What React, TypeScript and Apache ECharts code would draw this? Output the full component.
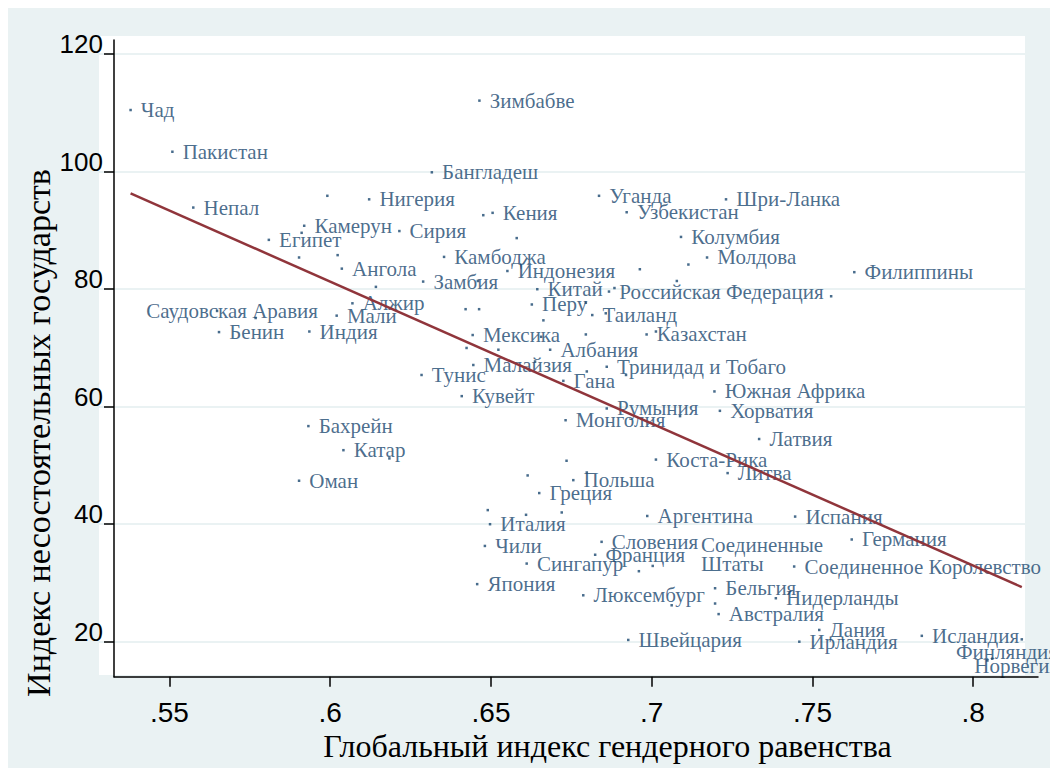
import React, { useEffect, useRef } from "react";
import * as echarts from "echarts";

// Labelled countries: name, Global Gender Gap Index, Failed States Index
const countries = [
  "Чад", "Пакистан", "Зимбабве", "Бангладеш", "Непал", "Нигерия", "Камерун", "Сирия",
  "Египет", "Ангола", "Кения", "Уганда", "Узбекистан", "Шри-Ланка", "Колумбия", "Молдова",
  "Камбоджа", "Индонезия", "Замбия", "Китай", "Российская Федерация", "Филиппины", "Перу",
  "Таиланд", "Саудовская Аравия", "Алжир", "Мали", "Бенин", "Индия", "Мексика", "Казахстан",
  "Албания", "Малайзия", "Тринидад и Тобаго", "Тунис", "Гана", "Кувейт", "Южная Африка",
  "Румыния", "Хорватия", "Монголия", "Бахрейн", "Катар", "Латвия", "Оман", "Коста-Рика",
  "Литва", "Польша", "Греция", "Аргентина", "Испания", "Италия", "Словения",
  "Соединенные Штаты", "Германия", "Чили", "Франция", "Сингапур", "Соединенное Королевство",
  "Япония", "Люксембург", "Бельгия", "Нидерланды", "Австралия", "Дания", "Швейцария",
  "Ирландия", "Исландия", "Финляндия", "Норвегия"
];
const genderIndex = [
  0.5379, 0.5509, 0.6464, 0.6316, 0.5574, 0.6121, 0.5919, 0.6215,
  0.5809, 0.6036, 0.6505, 0.6836, 0.6922, 0.7231, 0.7091, 0.7172,
  0.6354, 0.6551, 0.6289, 0.6644, 0.6867, 0.7630, 0.6627,
  0.6815, 0.5648, 0.6069, 0.6020, 0.5654, 0.5935, 0.6443, 0.6984,
  0.6684, 0.6445, 0.6860, 0.6284, 0.6725, 0.6409, 0.7195,
  0.6860, 0.7212, 0.6732, 0.5932, 0.6041, 0.7334, 0.5903, 0.7013,
  0.7236, 0.6756, 0.6650, 0.6986, 0.7446, 0.6497, 0.6844,
  0.7003, 0.7622, 0.6481, 0.6824, 0.6611, 0.7443,
  0.6457, 0.6787, 0.7197, 0.7386, 0.7208, 0.7521, 0.6927,
  0.7459, 0.7840, 0.8044, 0.8059
];
const failedStatesIndex = [
  110.5, 103.4, 112.1, 99.9, 93.9, 95.3, 90.8, 89.9,
  88.4, 83.5, 93.0, 95.9, 93.1, 95.3, 88.9, 85.4,
  85.5, 83.1, 81.3, 80.0, 79.6, 82.9, 77.4,
  75.6, 76.3, 77.6, 75.5, 72.7, 72.8, 72.2, 72.3,
  69.7, 67.1, 66.8, 65.4, 64.4, 61.8, 62.6,
  59.7, 59.3, 57.7, 56.7, 52.6, 54.5, 47.4, 51.0,
  48.7, 47.5, 45.3, 41.4, 41.3, 40.0, 37.0,
  32.9, 37.4, 36.3, 34.8, 33.3, 32.8,
  29.8, 27.9, 29.1, 27.4, 24.7, 22.0, 20.3,
  20.0, 21.0, 16.8, 17.1
];

// Points drawn without a label
const otherGender = [
  0.5991, 0.5911, 0.5903, 0.6023, 0.6476, 0.6580, 0.7114, 0.6963, 0.7078, 0.6459,
  0.6884, 0.6795, 0.6421, 0.6463, 0.6857, 0.6663, 0.6142, 0.7558, 0.5768, 0.6656,
  0.6795, 0.7013, 0.6424, 0.6523, 0.6637, 0.6798, 0.6920, 0.7088, 0.6184, 0.6735,
  0.6614, 0.6798, 0.6490, 0.6609, 0.6720, 0.6960, 0.7062, 0.7197, 0.8151
];
const otherFailed = [
  95.9, 89.6, 85.4, 85.8, 92.6, 88.7, 84.2, 83.4, 81.4, 81.4,
  80.2, 77.7, 76.6, 76.6, 75.9, 74.7, 80.4, 78.8, 75.1, 71.9,
  72.3, 72.8, 70.0, 69.7, 67.7, 66.0, 65.4, 58.4, 51.2, 50.8,
  48.3, 48.8, 42.4, 41.6, 42.0, 32.0, 26.2, 26.5, 20.4
];

// Linear fit end points
const fitX = [0.5379, 0.8151];
const fitY = [96.3, 29.3];

const xTicks = [0.55, 0.6, 0.65, 0.7, 0.75, 0.8];
const yTicks = [20, 40, 60, 80, 100, 120];

const NAVY = "#1A476F";
const FIT = "#90353B";
const BG = "#EAF2F3";
const SERIF = "'Liberation Serif', 'Times New Roman', serif";
const SANS = "'Liberation Sans', Arial, sans-serif";

const labelShift: Record<string, [number, number]> = {
  "Соединенные Штаты": [38, -11.5],
  "Финляндия": [-41.7, -8.8],
  "Норвегия": [-28.2, 7],
  "Саудовская Аравия": [-81, 0],
};

export default function App() {
  const ref = useRef<HTMLDivElement>(null);

  useEffect(() => {
    if (!ref.current) return;
    const chart = echarts.init(ref.current, null, { renderer: "svg" });

    const labelled = countries.map((name, i) => {
      const item: any = { name, value: [genderIndex[i], failedStatesIndex[i]] };
      if (labelShift[name]) item.label = { offset: labelShift[name] };
      return item;
    });
    const others = otherGender.map((g, i) => [g, otherFailed[i]]);

    const option: any = {
      animation: false,
      backgroundColor: BG,
      grid: [
        { left: 106, top: 32, right: 12, bottom: 91.3 },
        { left: 91, top: 28, right: 25, bottom: 93, show: true, backgroundColor: "#ffffff", borderWidth: 0, z: 0 },
      ],
      xAxis: [
        {
          gridIndex: 0, type: "value", min: 0.53274, max: 0.82014, z: 3,
          axisLine: { show: true, onZero: false, lineStyle: { color: "#000", width: 1.5 } },
          axisTick: { show: true, length: 10, customValues: xTicks, lineStyle: { color: "#000", width: 1.5 } },
          axisLabel: {
            customValues: xTicks, fontFamily: SANS, fontSize: 28, color: "#000", margin: 22,
            formatter: (v: number) => String(v).replace(/^0/, ""),
          },
          splitLine: { show: false },
        },
        { gridIndex: 1, type: "value", min: 0, max: 1, show: false },
      ],
      yAxis: [
        {
          gridIndex: 0, type: "value", min: 14.043, max: 122.42, z: 3,
          axisLine: { show: true, onZero: false, lineStyle: { color: "#000", width: 1.5 } },
          axisTick: { show: true, length: 10, customValues: yTicks, lineStyle: { color: "#000", width: 1.5 } },
          axisLabel: {
            customValues: yTicks, fontFamily: SANS, fontSize: 26, color: "#000", margin: 11,
            verticalAlign: "bottom", lineHeight: 20,
          },
          splitLine: { show: false },
        },
        { gridIndex: 1, type: "value", min: 14.33, max: 123.1, show: false },
      ],
      series: [
        {
          type: "line", xAxisIndex: 1, yAxisIndex: 1, data: [], z: 1, silent: true,
          markLine: {
            silent: true, z: 1, symbol: ["none", "none"], label: { show: false },
            lineStyle: { color: BG, width: 2, type: "solid" },
            data: yTicks.map((v) => ({ yAxis: v })),
          },
        },
        {
          type: "scatter", xAxisIndex: 0, yAxisIndex: 0, data: others, z: 2,
          symbol: "rect", symbolSize: 2.5, itemStyle: { color: NAVY },
        },
        {
          type: "scatter", xAxisIndex: 0, yAxisIndex: 0, data: labelled, z: 2,
          symbol: "rect", symbolSize: 2.5, itemStyle: { color: NAVY },
          label: {
            show: true, position: "right", distance: 9,
            formatter: (p: any) => (p.name === "Соединенные Штаты" ? "Соединенные\nШтаты" : p.name),
            fontFamily: SERIF, fontSize: 21, lineHeight: 19, color: NAVY,
          },
        },
        {
          type: "line", xAxisIndex: 0, yAxisIndex: 0, z: 3,
          data: fitX.map((x, i) => [x, fitY[i]]),
          symbol: "none", lineStyle: { color: FIT, width: 2.5 },
        },
      ],
      graphic: [
        {
          type: "text", x: 30, y: 425, rotation: Math.PI / 2,
          style: { text: "Индекс несостоятельных государств", font: `34px ${SERIF}`, fill: "#000", align: "center", verticalAlign: "middle" },
        },
        {
          type: "text", x: 599.5, y: 737.5,
          style: { text: "Глобальный индекс гендерного равенства", font: `32px ${SERIF}`, fill: "#000", align: "center", verticalAlign: "middle" },
        },
      ],
    };
    chart.setOption(option);
    return () => chart.dispose();
  }, []);

  return <div ref={ref} style={{ width: 1042, height: 760 }} />;
}
